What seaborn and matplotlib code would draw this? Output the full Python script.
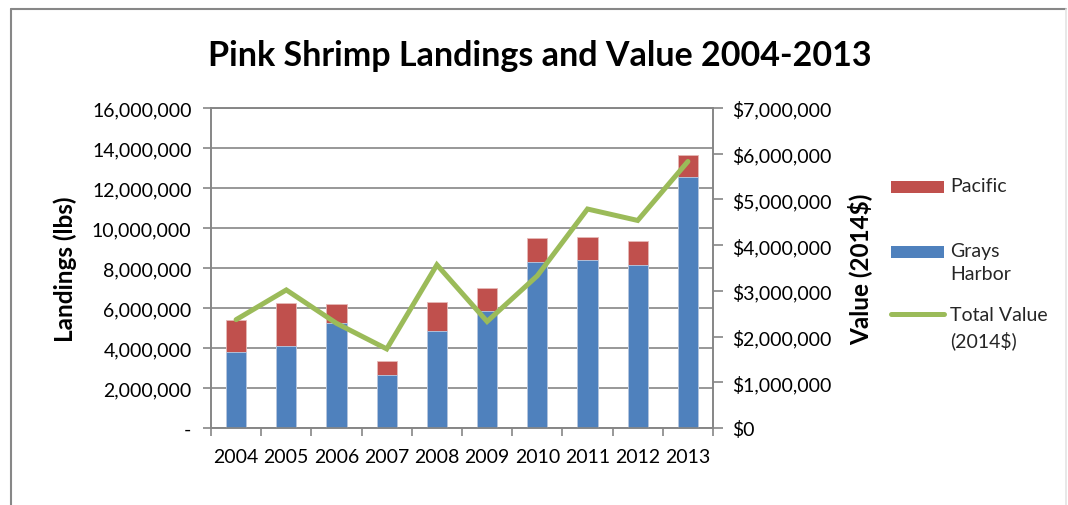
import matplotlib
matplotlib.use("Agg")
import matplotlib.pyplot as plt
from matplotlib.patches import Patch, Rectangle
from matplotlib.lines import Line2D
from matplotlib.legend_handler import HandlerPatch
from matplotlib.ticker import FuncFormatter, MultipleLocator, FixedLocator
import numpy as np
import pandas as pd
import seaborn as sns

# Pink shrimp landings (lbs) by port and total ex-vessel value (2014 dollars)
years = ["2004", "2005", "2006", "2007", "2008", "2009", "2010", "2011", "2012", "2013"]
grays_harbor = [3820000, 4080000, 5230000, 2630000, 4830000, 5870000, 8300000, 8380000, 8130000, 12530000]
pacific = [1580000, 2190000, 950000, 720000, 1470000, 1150000, 1180000, 1150000, 1220000, 1100000]
total_value = [2370000, 3020000, 2290000, 1730000, 3570000, 2330000, 3330000, 4790000, 4540000, 5830000]

BLUE = "#4F81BD"
RED = "#C0504D"
GREEN = "#9BBB59"
GRID = "#868686"
FONT = "Lato"
TICK_SIZE = 14

sns.set_theme(style="white")
plt.rcParams["font.family"] = [FONT, "DejaVu Sans"]

df = pd.DataFrame({
    "year": years,
    "grays": grays_harbor,
    "pacific": pacific,
    "value": total_value,
})
df["stack_top"] = df["grays"] + df["pacific"]

fig = plt.figure(figsize=(10.68, 5.06), dpi=100)
ax = fig.add_axes([211 / 1068, 1 - 429 / 506, 502 / 1068, 320 / 506])

# Stacked columns: full height in red, Grays Harbor portion over it in blue
sns.barplot(data=df, x="year", y="stack_top", color=RED, saturation=1,
            width=0.4, ax=ax, edgecolor="#E6B9B8", linewidth=0.6, zorder=3)
sns.barplot(data=df, x="year", y="grays", color=BLUE, saturation=1,
            width=0.4, ax=ax, edgecolor="#B9CDE5", linewidth=0.6, zorder=3)

ax.set_xlim(-0.5, len(years) - 0.5)
ax.set_ylim(0, 16000000)
ax.yaxis.set_major_locator(MultipleLocator(2000000))
ax.yaxis.set_major_formatter(FuncFormatter(lambda v, p: "-" if v == 0 else f"{v:,.0f}"))
ax.grid(axis="y", color=GRID, linewidth=1.2, zorder=0)
ax.set_axisbelow(True)

# Category ticks sit between the columns
ax.xaxis.set_minor_locator(FixedLocator(np.arange(-0.5, len(years), 1.0)))
ax.tick_params(axis="x", which="major", length=0, pad=14.5, labelsize=TICK_SIZE, labelcolor="black")
ax.tick_params(axis="x", which="minor", length=6, width=1.2, color=GRID, direction="out", bottom=True)
ax.tick_params(axis="y", which="major", left=True, length=6, width=1.2, color=GRID,
               direction="out", pad=8, labelsize=TICK_SIZE, labelcolor="black")
ax.set_xlabel("")
ax.set_ylabel("Landings (lbs)", fontsize=17.5, fontweight="bold", labelpad=11, color="black")

for side in ["left", "right", "top", "bottom"]:
    ax.spines[side].set_visible(True)
    ax.spines[side].set_color(GRID)
    ax.spines[side].set_linewidth(1.2)

# Value on the secondary axis
ax2 = ax.twinx()
sns.lineplot(x=np.arange(len(years)), y=df["value"], color=GREEN, linewidth=3.6,
             ax=ax2, zorder=5, solid_joinstyle="miter")
ax2.set_ylim(0, 7000000)
ax2.yaxis.set_major_locator(MultipleLocator(1000000))
ax2.yaxis.set_major_formatter(FuncFormatter(lambda v, p: f"${v:,.0f}"))
ax2.tick_params(axis="y", right=True, length=7, width=1.2, color=GRID,
                direction="out", pad=7, labelsize=TICK_SIZE, labelcolor="black")
ax2.set_ylabel("Value (2014$)", fontsize=17.5, fontweight="bold", labelpad=11, color="black")
ax2.grid(False)
for side in ["left", "right", "top", "bottom"]:
    ax2.spines[side].set_color(GRID)
    ax2.spines[side].set_linewidth(1.2)

fig.text(0.505, 1 - 56 / 506, "Pink Shrimp Landings and Value 2004-2013",
         ha="center", va="center", fontsize=24.5, fontweight="bold", color="black")


# Legend entries: a short swatch aligned with the first line of each label
def short_patch(legend, orig_handle, xdescent, ydescent, width, height, fontsize):
    h = 0.62 * fontsize
    return Rectangle((-xdescent, -ydescent + (height - h) / 2), width, h)


entries = [
    (Patch(facecolor=RED, edgecolor="none"), "Pacific", 186),
    (Patch(facecolor=BLUE, edgecolor="none"), "Grays\nHarbor", 251),
    (Line2D([0], [0], color=GREEN, linewidth=3.6), "Total Value\n(2014$)", 315),
]
for handle, label, y_center in entries:
    leg = fig.legend([handle], [label], loc="upper left",
                     bbox_to_anchor=(891 / 1068, 1 - (y_center - 8) / 506),
                     frameon=False, fontsize=TICK_SIZE, handlelength=2.7, handleheight=1.2,
                     handletextpad=0.35, borderaxespad=0, borderpad=0,
                     handler_map={Patch: HandlerPatch(patch_func=short_patch)})
    for text in leg.get_texts():
        text.set_linespacing(1.45)
    for column in leg._legend_handle_box.get_children():
        for item in column.get_children():
            item.align = "top"

# Chart frame
fig.add_artist(Line2D([11 / 1068, 11 / 1068], [0, 1 - 10 / 506], transform=fig.transFigure,
                      color="#878787", linewidth=1.5))
fig.add_artist(Line2D([11 / 1068, 1066 / 1068], [1 - 10 / 506, 1 - 10 / 506],
                      transform=fig.transFigure, color="#878787", linewidth=1.5))
fig.add_artist(Line2D([1066 / 1068, 1066 / 1068], [0, 1 - 10 / 506], transform=fig.transFigure,
                      color="#E4E4E4", linewidth=1.2))

fig.savefig("out.png", dpi=100, facecolor="white")
